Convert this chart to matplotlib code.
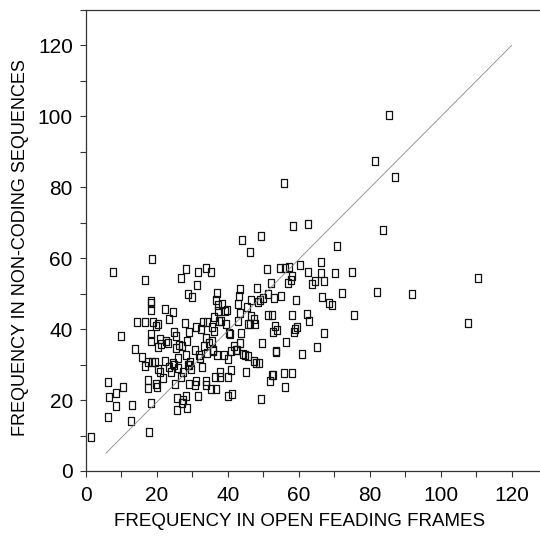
import matplotlib
matplotlib.use("Agg")
import matplotlib.pyplot as plt
from matplotlib.ticker import MultipleLocator

plt.rcParams['font.family'] = ['Liberation Sans', 'DejaVu Sans']

# frequency in open reading frames (x) and in non-coding sequences (y)
orf_freq = [
    1.4, 6.1, 6.1, 6.4, 7.7, 8.5, 8.5, 9.9, 10.4, 13.0, 12.8, 13.9, 14.4, 15.8, 16.6,
    16.5, 16.5, 17.4, 17.5, 17.7, 18.2, 18.2, 18.4, 18.4, 18.2, 18.4, 18.6, 18.8, 19.7,
    18.7, 19.4, 17.5, 19.7, 19.9, 20.2, 20.3, 20.4, 20.8, 21.2, 20.8, 21.6, 22.2, 22.4,
    22.6, 23.0, 23.5, 23.4, 24.0, 24.5, 24.4, 24.8, 25.3, 24.8, 25.2, 25.7, 25.7, 25.5,
    26.0, 26.0, 26.3, 26.7, 26.7, 27.0, 27.0, 27.4, 27.4, 27.9, 28.2, 28.2, 28.3, 28.4,
    28.7, 28.5, 28.7, 28.9, 28.9, 29.1, 29.4, 29.7, 30.0, 30.6, 30.8, 30.9, 31.1, 31.3,
    31.6, 31.7, 31.8, 32.1, 32.5, 32.6, 32.9, 33.3, 33.7, 33.8, 33.9, 33.8, 34.0, 34.2,
    34.7, 35.2, 35.2, 35.5, 35.6, 35.8, 35.8, 36.1, 36.1, 36.3, 36.6, 36.7, 36.8, 36.9,
    37.1, 37.3, 37.5, 37.7, 37.9, 38.1, 38.3, 38.8, 39.1, 39.5, 39.7, 40.0, 40.0, 40.0,
    40.3, 40.7, 40.8, 41.0, 41.2, 41.6, 42.2, 42.7, 42.8, 42.9, 43.1, 43.3, 43.3, 43.5,
    43.7, 44.1, 44.4, 44.7, 45.1, 45.4, 45.6, 45.8, 46.1, 46.1, 46.5, 46.6, 47.3, 47.5,
    47.6, 47.9, 48.3, 48.6, 48.8, 49.0, 49.2, 49.4, 49.5, 49.9, 50.9, 51.2, 51.4, 51.8,
    52.1, 52.4, 52.3, 52.6, 52.8, 53.1, 53.4, 53.5, 53.5, 53.8, 54.6, 54.9, 55.7, 56.0,
    55.8, 56.1, 56.5, 57.0, 57.3, 57.7, 58.0, 58.4, 58.0, 58.2, 58.6, 58.9, 59.2, 59.6,
    60.4, 61.0, 62.5, 62.3, 62.9, 63.8, 62.6, 64.5, 65.2, 66.2, 66.2, 66.5, 67.1, 67.0,
    68.6, 69.4, 70.1, 70.8, 72.2, 74.9, 75.7, 81.5, 82.1, 83.8, 85.4, 87.2, 91.9, 107.8,
    110.5,
]
noncoding_freq = [
    9.5, 25.2, 15.3, 20.9, 56.0, 21.9, 18.3, 38.1, 23.8, 18.6, 14.1, 34.3, 42.1, 32.1, 29.6,
    54.0, 42.1, 25.8, 23.4, 11.0, 19.3, 47.5, 47.8, 45.4, 38.6, 36.6, 59.7, 42.1, 40.9,
    30.7, 30.7, 30.7, 24.6, 23.8, 41.4, 28.7, 34.9, 37.1, 35.9, 28.0, 26.2, 45.8, 31.0,
    36.8, 36.2, 43.0, 29.4, 28.0, 30.4, 44.9, 39.2, 34.7, 29.9, 24.6, 20.7, 17.3, 38.0,
    31.8, 29.1, 35.6, 54.3, 26.6, 35.3, 19.3, 28.0, 19.9, 41.6, 57.1, 21.2, 32.8, 36.6,
    50.0, 17.7, 30.0, 24.6, 29.9, 39.2, 30.8, 28.7, 49.1, 34.2, 24.3, 25.5, 40.5, 52.5,
    56.2, 21.2, 32.8, 31.8, 40.0, 29.4, 42.1, 35.2, 57.3, 25.5, 24.3, 37.6, 41.9, 33.3,
    36.1, 56.2, 23.1, 40.5, 36.6, 34.2, 33.7, 39.5, 43.4, 26.5, 23.1, 48.2, 32.8, 50.1,
    46.7, 45.2, 42.4, 26.5, 28.0, 42.4, 47.2, 32.8, 45.0, 41.4, 45.3, 31.6, 26.5, 21.2,
    39.0, 38.7, 33.7, 28.4, 21.7, 35.3, 34.2, 34.2, 42.2, 47.0, 49.4, 51.3, 36.1, 44.6,
    38.8, 65.1, 32.9, 32.8, 27.9, 46.2, 41.4, 32.3, 41.4, 61.7, 43.8, 48.2, 42.9, 31.0,
    41.4, 30.4, 51.7, 47.7, 30.4, 48.2, 20.4, 66.3, 36.1, 48.7, 56.9, 43.9, 50.0, 25.5,
    53.0, 43.9, 27.0, 27.1, 39.2, 48.9, 40.9, 33.6, 33.9, 39.9, 57.3, 49.3, 81.3, 57.3,
    27.7, 23.7, 36.4, 53.0, 57.5, 53.9, 54.9, 69.2, 27.7, 43.9, 39.2, 40.0, 48.2, 40.6,
    58.0, 33.1, 56.2, 44.2, 42.4, 52.8, 69.7, 53.5, 35.0, 59.0, 55.9, 49.1, 53.5, 39.0,
    47.4, 46.9, 55.9, 63.4, 50.1, 56.2, 44.1, 87.3, 50.5, 67.9, 100.3, 82.9, 50.0, 41.6,
    54.5,
]

# diagonal reference line (endpoints)
line_x = [5.6, 120.0]
line_y = [5.0, 120.0]

x_ticks = [0, 20, 40, 60, 80, 100, 120]
y_ticks = [0, 20, 40, 60, 80, 100, 120]

fig = plt.figure(figsize=(5.40, 5.36), dpi=100)
ax = fig.add_axes([86 / 540, 1 - 471 / 536, 1 - 86 / 540, (471 - 10) / 536])

rect = [(-0.73, -1), (0.73, -1), (0.73, 1), (-0.73, 1), (-0.73, -1)]
ax.plot(orf_freq, noncoding_freq, linestyle='none', marker=rect, markersize=6.0,
        markerfacecolor='none', markeredgecolor='#111111', markeredgewidth=0.9,
        clip_on=False)
ax.plot(line_x, line_y, color='#888888', linewidth=0.6)

ax.set_xlim(0, 128)
ax.set_ylim(0, 130)
ax.set_xticks(x_ticks)
ax.set_yticks(y_ticks)
ax.xaxis.set_minor_locator(MultipleLocator(10))
ax.yaxis.set_minor_locator(MultipleLocator(10))
ax.tick_params(axis='both', which='both', direction='out', length=4.5, width=0.8,
               color='#333333', labelsize=15)
ax.tick_params(axis='y', pad=5)
ax.tick_params(axis='x', pad=6)
ax.spines['right'].set_visible(False)
for s in ['left', 'top', 'bottom']:
    ax.spines[s].set_linewidth(0.9)
    ax.spines[s].set_color('#333333')

ax.set_xlabel('FREQUENCY IN OPEN FEADING FRAMES', fontsize=13.5)
ax.set_ylabel('FREQUENCY IN NON-CODING SEQUENCES', fontsize=13.0)
ax.xaxis.set_label_coords(0.471, -0.092)
ax.yaxis.set_label_coords(-0.125, 0.484)

fig.savefig('out.png', dpi=100)
